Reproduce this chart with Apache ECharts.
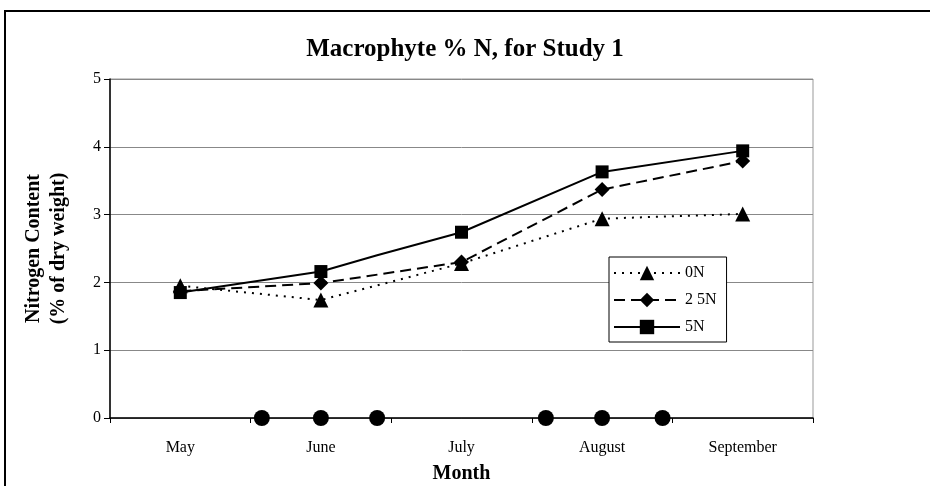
<!DOCTYPE html>
<html>
<head>
<meta charset="utf-8">
<script src="https://cdn.jsdelivr.net/npm/echarts@6/dist/echarts.min.js"></script>
<style>
  html, body { margin: 0; padding: 0; background: #fff; }
  #main { width: 930px; height: 486px; }
</style>
</head>
<body>
<div id="main"></div>
<script>
// months on the category axis
const months = ['May', 'June', 'July', 'August', 'September'];
const yTicks = [0, 1, 2, 3, 4, 5];

// % N of dry weight, one value per month
const n0 = [1.95, 1.74, 2.28, 2.94, 3.01];
const n25 = [1.87, 1.99, 2.30, 3.37, 3.79];
const n5 = [1.85, 2.16, 2.74, 3.63, 3.94];
// 5N has an unmarked reading between June and July
const n5ExtraX = 1.9;
const n5Extra = 2.40;

// sampling dates (black dots on the axis), in month units from start of May
const sampleX = [1.08, 1.5, 1.9, 3.1, 3.5, 3.93];

const serif = 'Liberation Serif, Times New Roman, serif';

function monthly(vals) {
  return vals.map((v, i) => [i + 0.5, v]);
}

const n5Data = monthly(n5);
n5Data.splice(2, 0, { value: [n5ExtraX, n5Extra], symbol: 'none' });

const chart = echarts.init(document.getElementById('main'));

chart.setOption({
  backgroundColor: '#fff',
  animation: false,
  title: {
    text: 'Macrophyte % N, for Study 1',
    left: 'center',
    top: 32,
    textStyle: { fontFamily: serif, fontWeight: 'bold', fontSize: 25, color: '#000' }
  },
  graphic: [{
    type: 'rect',
    shape: { x: 5, y: 11, width: 960, height: 500 },
    style: { fill: 'none', stroke: '#000', lineWidth: 2 }
  }],
  grid: {
    left: 110, right: 117, top: 79, bottom: 68,
    outerBoundsMode: 'none',
    show: true, borderColor: '#999', borderWidth: 1
  },
  legend: {
    data: ['0N', '2 5N', '5N'],
    orient: 'vertical',
    left: 609, top: 257,
    itemWidth: 66, itemHeight: 18, itemGap: 11,
    padding: [8, 10, 7, 4],
    borderColor: '#000', borderWidth: 1,
    backgroundColor: '#fff',
    textStyle: { fontFamily: serif, fontSize: 16, color: '#000' }
  },
  xAxis: [{
    type: 'category',
    data: months,
    boundaryGap: true,
    name: 'Month',
    nameLocation: 'middle',
    nameGap: 46,
    nameTextStyle: { fontFamily: serif, fontWeight: 'bold', fontSize: 20, color: '#000' },
    axisLine: { lineStyle: { color: '#000', width: 1.5 } },
    axisTick: { show: true, alignWithLabel: false, length: 5, lineStyle: { color: '#000' } },
    axisLabel: { fontFamily: serif, fontSize: 16, color: '#000', margin: 22 },
    splitLine: { show: false }
  }, {
    type: 'value',
    min: 0, max: months.length,
    show: false
  }],
  yAxis: {
    type: 'value',
    min: yTicks[0], max: yTicks[yTicks.length - 1], interval: 1,
    name: 'Nitrogen Content\n(% of dry weight)',
    nameLocation: 'middle',
    nameRotate: 90,
    nameGap: 39,
    nameTextStyle: { fontFamily: serif, fontWeight: 'bold', fontSize: 20, color: '#000', lineHeight: 25 },
    axisLine: { show: true, lineStyle: { color: '#000', width: 1.5 } },
    axisTick: { show: true, length: 6, lineStyle: { color: '#000' } },
    axisLabel: { fontFamily: serif, fontSize: 16, color: '#000', margin: 9 },
    splitLine: { show: true, lineStyle: { color: '#888', width: 1 } }
  },
  series: [{
    name: '0N',
    type: 'line',
    xAxisIndex: 1,
    data: monthly(n0),
    symbol: 'triangle',
    symbolSize: 15,
    itemStyle: { color: '#000' },
    lineStyle: { color: '#000', width: 2, type: [2, 6] },
    z: 3
  }, {
    name: '2 5N',
    type: 'line',
    xAxisIndex: 1,
    data: monthly(n25),
    symbol: 'diamond',
    symbolSize: 15,
    itemStyle: { color: '#000' },
    lineStyle: { color: '#000', width: 2, type: [11, 6] },
    z: 4
  }, {
    name: '5N',
    type: 'line',
    xAxisIndex: 1,
    data: n5Data,
    symbol: 'rect',
    symbolSize: 13,
    itemStyle: { color: '#000' },
    lineStyle: { color: '#000', width: 2 },
    z: 5
  }, {
    name: 'sampling',
    type: 'scatter',
    xAxisIndex: 1,
    data: sampleX.map(x => [x, 0]),
    symbol: 'circle',
    symbolSize: 16,
    itemStyle: { color: '#000', opacity: 1 },
    clip: false,
    z: 6
  }]
});
</script>
</body>
</html>
